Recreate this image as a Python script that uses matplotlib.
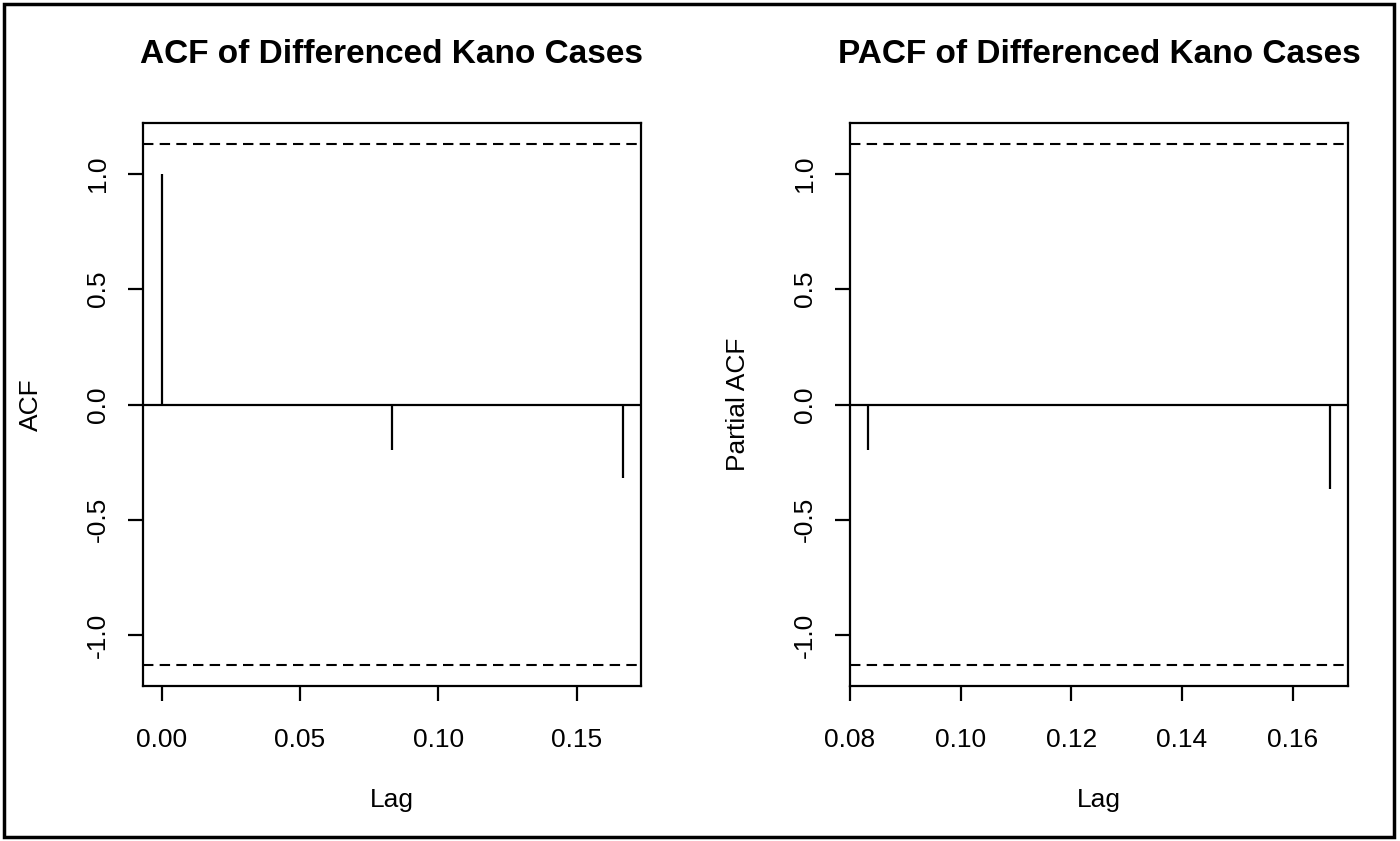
import numpy as np
import matplotlib.pyplot as plt
from matplotlib.patches import Rectangle

plt.rcParams['font.family'] = ['Liberation Sans', 'DejaVu Sans']

# data
acf_lag = [0.0, 1/12, 2/12]
acf_val = [1.0, -0.196, -0.317]
pacf_lag = [1/12, 2/12]
pacf_val = [-0.196, -0.365]
conf = 1.13  # 1.96/sqrt(n)

W, H = 1400, 841
fig = plt.figure(figsize=(14, 8.41), dpi=100)

def px_axes(x0, y0, x1, y1):
    return fig.add_axes([x0 / W, 1 - y1 / H, (x1 - x0) / W, (y1 - y0) / H])

def draw(ax, lag, val, title, ylabel, xticks, xlim):
    ax.vlines(lag, 0, val, color='black', lw=1.6)
    ax.axhline(0, color='black', lw=1.6)
    for c in (conf, -conf):
        ax.axhline(c, color='black', lw=1.5, ls=(0, (5, 3)))
    ax.set_xlim(xlim)
    ax.set_ylim(-1.22, 1.22)
    ax.set_xticks(xticks)
    ax.set_xticklabels(['%.2f' % t for t in xticks])
    ax.set_yticks([-1.0, -0.5, 0.0, 0.5, 1.0])
    ax.set_yticklabels(['-1.0', '-0.5', '0.0', '0.5', '1.0'], rotation=90, va='center')
    ax.tick_params(direction='out', length=11, width=1.6, labelsize=19)
    ax.tick_params(axis='x', pad=19)
    ax.tick_params(axis='y', pad=13)
    for s in ax.spines.values():
        s.set_linewidth(1.6)
    ax.set_title(title, fontsize=24, fontweight='bold', pad=43)
    ax.set_xlabel('Lag', fontsize=19, labelpad=26)
    ax.set_ylabel(ylabel, fontsize=19, labelpad=31)

ax1 = px_axes(143, 123, 641, 686)
draw(ax1, acf_lag, acf_val, 'ACF of Differenced Kano Cases', 'ACF',
     [0.0, 0.05, 0.10, 0.15], (-0.0067, 0.1733))

ax2 = px_axes(850, 123, 1348, 686)
draw(ax2, pacf_lag, pacf_val, 'PACF of Differenced Kano Cases', 'Partial ACF',
     [0.08, 0.10, 0.12, 0.14, 0.16], (0.08, 0.17))

fig.patches.append(Rectangle((4 / W, 4 / H), 1390 / W, 833 / H, transform=fig.transFigure,
                             fill=False, edgecolor='black', lw=2.5))

fig.savefig('out.png', dpi=100)
